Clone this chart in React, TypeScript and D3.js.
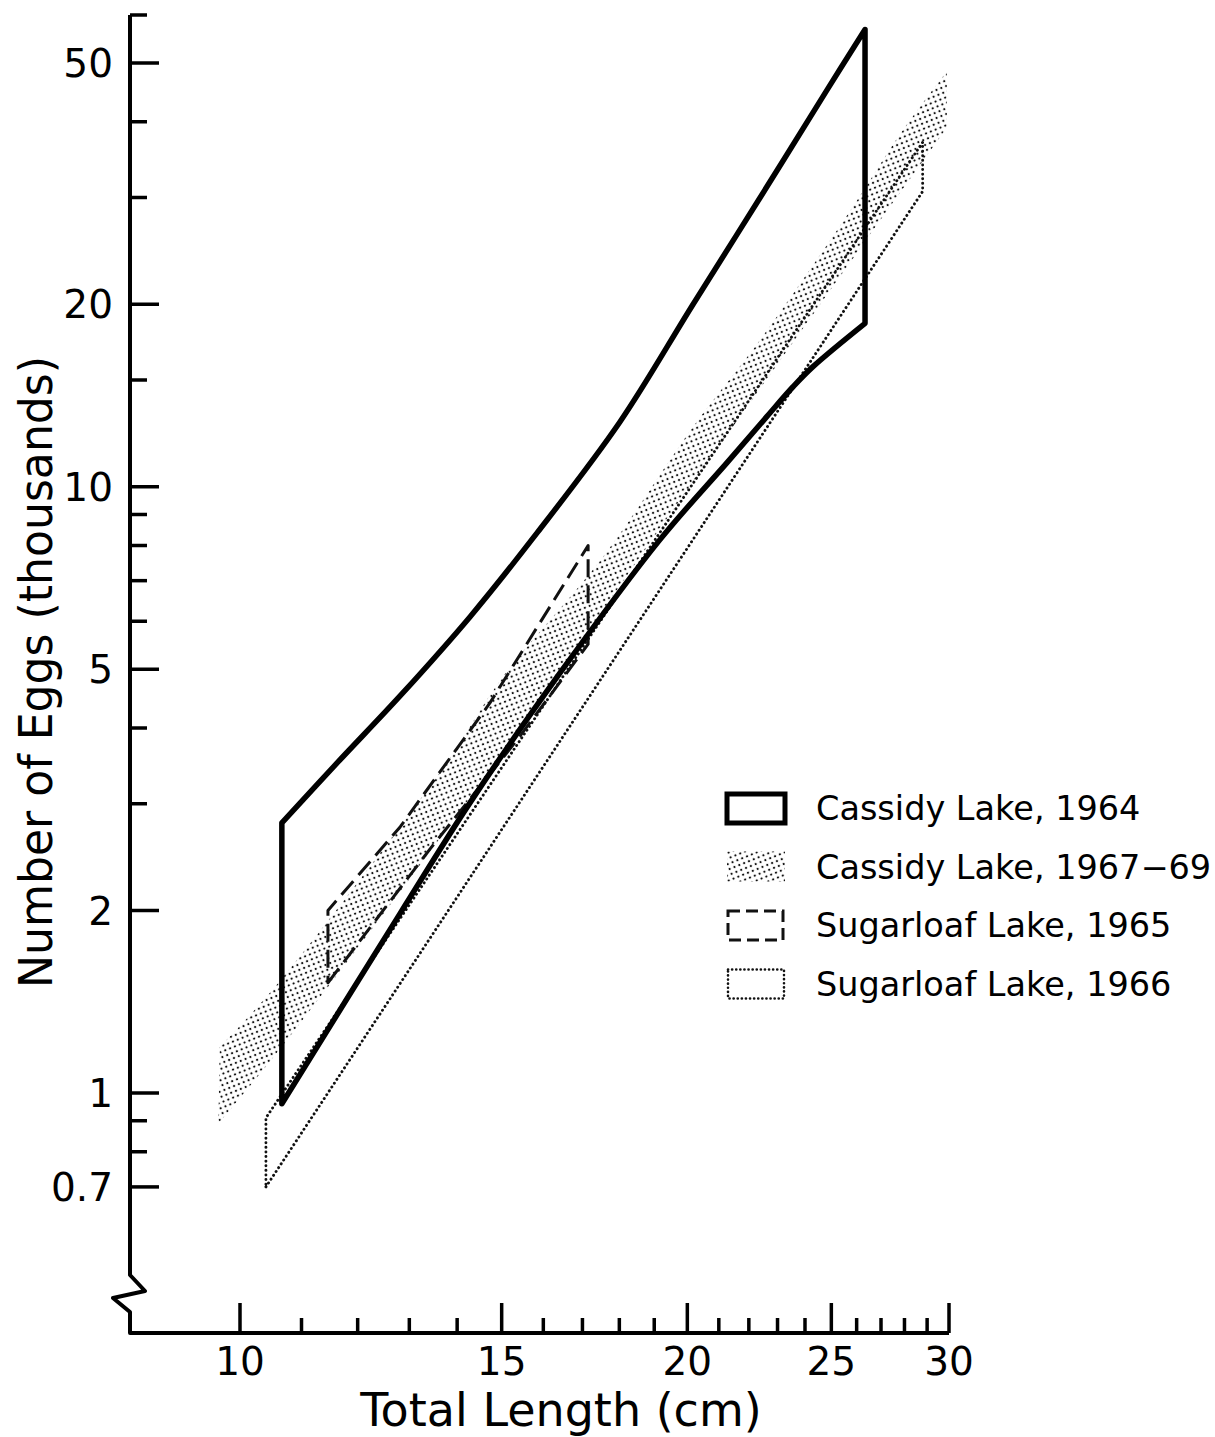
import * as d3 from 'd3';

// [total length (cm), eggs (thousands)]
type Pt = [number, number];

// Cassidy Lake, 1964 envelope (heavy solid)
const cassidy64Lower: Pt[] = [
  [10.67, 0.96], [12.82, 1.98], [14.28, 3.01], [16.42, 4.93], [19.17, 8.18],
  [21.27, 10.96], [22.62, 13.05], [23.56, 14.62], [24.3, 15.78], [26.34, 18.6],
];
const cassidy64Upper: Pt[] = [
  [10.67, 2.79], [11.62, 3.5], [12.87, 4.57], [14.28, 6.1], [15.85, 8.4],
  [18.02, 12.8], [20.18, 20.0], [22.39, 30.0], [24.83, 45.1], [26.34, 56.8],
];

// Cassidy Lake, 1967-69 band (stipple)
const cassidy6769Upper: Pt[] = [
  [9.69, 1.19], [10.59, 1.51], [13.7, 3.44], [15.03, 4.86], [17.55, 7.66],
  [20.18, 12.56], [22.39, 17.48], [25.85, 28.97], [27.8, 38.1], [29.9, 48.4],
];
const cassidy6769Lower: Pt[] = [
  [9.67, 0.89], [10.69, 1.2], [14.73, 3.41], [19.78, 9.52], [21.7, 13.05],
  [24.56, 19.97], [29.9, 39.1],
];

// Sugarloaf Lake, 1965 (dashed)
const sugarloaf65Upper: Pt[] = [[11.46, 2.0], [12.82, 2.75], [14.73, 4.4], [17.15, 8.0]];
const sugarloaf65Lower: Pt[] = [[11.46, 1.52], [13.43, 2.53], [15.36, 3.82], [17.15, 5.5]];

// Sugarloaf Lake, 1966 (dotted)
const sugarloaf66Upper: Pt[] = [[10.41, 0.91], [28.8, 37.0]];
const sugarloaf66Lower: Pt[] = [[10.41, 0.7], [28.8, 30.7]];

const xMajorTicks = [10, 15, 20, 25, 30];
const xMinorTicks = [11, 12, 13, 14, 16, 17, 18, 19, 21, 22, 23, 24, 26, 27, 28, 29];
const yMajorTicks = [0.7, 1, 2, 5, 10, 20, 50];
const yMinorTicks = [0.8, 0.9, 3, 4, 6, 7, 8, 9, 15, 30, 40, 60];
const legendLabels = ['Cassidy Lake, 1964', 'Cassidy Lake, 1967\u221269', 'Sugarloaf Lake, 1965', 'Sugarloaf Lake, 1966'];

const W = 1215;
const H = 1437;
const axisX = 130;
const axisY = 1333;
const font = '"DejaVu Sans", sans-serif';

export default function App() {
  const x = d3.scaleLog().domain([10, 30]).range([240, 949]);
  const y = d3.scaleLog().domain([1, 50]).range([1093, 63]);

  const smooth = d3.line<Pt>().x(d => x(d[0])).y(d => y(d[1])).curve(d3.curveCatmullRom.alpha(0.5));
  const straight = d3.line<Pt>().x(d => x(d[0])).y(d => y(d[1]));

  // lower edge left->right, then upper edge back right->left, closed
  const ring = (lower: Pt[], upper: Pt[], gen: d3.Line<Pt>) => {
    const a = gen(lower) || '';
    const b = gen([...upper].reverse()) || '';
    return a + 'L' + b.slice(1) + 'Z';
  };

  const yTop = y(60);
  const axisPath = `M${axisX},${yTop}L${axisX},1275L145,1291L113,1298L${axisX},1312L${axisX},${axisY}L${x(30)},${axisY}`;

  const legendX = 727;
  const legendY = (i: number) => 808 + i * 58.5;

  return (
    <svg width={W} height={H} style={{ position: 'absolute', left: 0, top: 0, background: '#fff' }}>
      <defs>
        <pattern id="stip" width="5.2" height="5.2" patternUnits="userSpaceOnUse" patternTransform="rotate(-22)">
          <circle cx="2.6" cy="2.6" r="1.15" fill="#111" />
        </pattern>
      </defs>
      <rect width={W} height={H} fill="#fff" />

      {/* Cassidy 1967-69 band */}
      <path d={ring(cassidy6769Lower, cassidy6769Upper, smooth)} fill="url(#stip)" stroke="none" />

      {/* Sugarloaf 1966 */}
      <path d={ring(sugarloaf66Lower, sugarloaf66Upper, straight)} fill="none" stroke="#111"
        strokeWidth={2.9} strokeDasharray="0.1,4.5" strokeLinecap="round" />

      {/* Sugarloaf 1965 */}
      <path d={ring(sugarloaf65Lower, sugarloaf65Upper, straight)} fill="none" stroke="#111"
        strokeWidth={3} strokeDasharray="18,8" strokeLinejoin="round" />

      {/* Cassidy 1964 */}
      <path d={ring(cassidy64Lower, cassidy64Upper, smooth)} fill="none" stroke="#000"
        strokeWidth={5.5} strokeLinejoin="round" />

      {/* axes */}
      <path d={axisPath} fill="none" stroke="#000" strokeWidth={4} strokeLinejoin="round" />
      {yMajorTicks.map(t => (
        <line key={'ym' + t} x1={axisX} x2={axisX + 29} y1={y(t)} y2={y(t)} stroke="#000" strokeWidth={3.5} />
      ))}
      {yMinorTicks.map(t => (
        <line key={'yn' + t} x1={axisX} x2={axisX + 17} y1={y(t)} y2={y(t)} stroke="#000" strokeWidth={3.5} />
      ))}
      {yMajorTicks.map(t => (
        <text key={'yl' + t} x={113} y={y(t)} dy="0.36em" textAnchor="end" fontFamily={font} fontSize={39}>
          {t}
        </text>
      ))}
      {xMajorTicks.map(t => (
        <line key={'xm' + t} x1={x(t)} x2={x(t)} y1={axisY} y2={axisY - 30} stroke="#000" strokeWidth={3.5} />
      ))}
      {xMinorTicks.map(t => (
        <line key={'xn' + t} x1={x(t)} x2={x(t)} y1={axisY} y2={axisY - 15} stroke="#000" strokeWidth={3.5} />
      ))}
      {xMajorTicks.map(t => (
        <text key={'xl' + t} x={x(t)} y={1375} textAnchor="middle" fontFamily={font} fontSize={39}>
          {t}
        </text>
      ))}

      <text x={561} y={1426} textAnchor="middle" fontFamily={font} fontSize={46}>
        Total Length (cm)
      </text>
      <text transform="translate(52,672) rotate(-90)" textAnchor="middle" fontFamily={font} fontSize={46}
        textLength={632} lengthAdjust="spacingAndGlyphs">
        Number of Eggs (thousands)
      </text>

      {/* legend */}
      <rect x={legendX} y={legendY(0) - 14} width={58} height={29} fill="none" stroke="#000" strokeWidth={5} />
      <rect x={legendX} y={legendY(1) - 15} width={58} height={30} fill="url(#stip)" />
      <rect x={legendX + 1} y={legendY(2) - 14} width={55} height={29} fill="none" stroke="#111" strokeWidth={3} strokeDasharray="12,6" />
      <rect x={legendX + 1} y={legendY(3) - 14} width={56} height={29} fill="none" stroke="#111" strokeWidth={2.6}
        strokeDasharray="0.1,4" strokeLinecap="round" />
      {legendLabels.map((s, i) => (
        <text key={s} x={816} y={legendY(i) + 12} fontFamily={font} fontSize={33.5}>
          {s}
        </text>
      ))}
    </svg>
  );
}
